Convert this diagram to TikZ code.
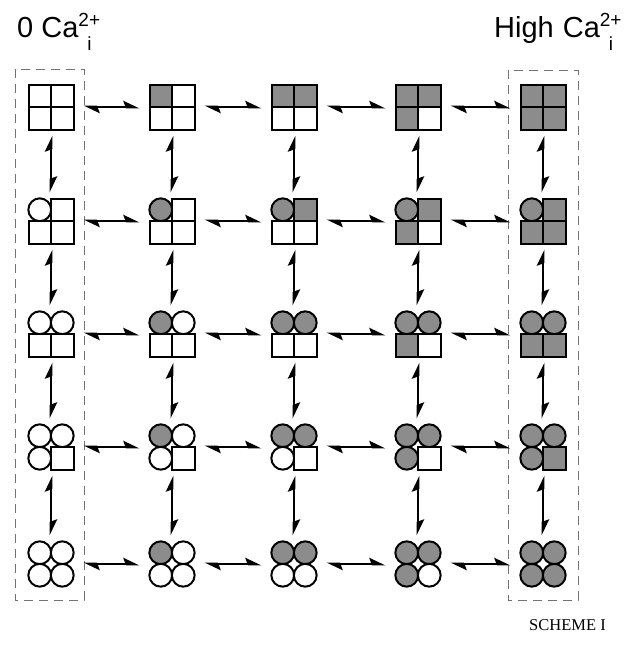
\documentclass[tikz,border=0pt]{standalone}
\usepackage{fontspec}
\setmainfont{Liberation Serif}
\newfontfamily\hv{Liberation Sans}
\usetikzlibrary{arrows.meta}
\definecolor{shade}{gray}{0.55}
\begin{document}
\begin{tikzpicture}[x=1pt,y=-1pt,
  cellline/.style={line width=2pt},
  eqarrow/.style={line width=2.6pt, {Stealth[harpoon,length=13pt,width=12pt,inset=2pt]}-{Stealth[harpoon,length=13pt,width=12pt,inset=2pt]}},
  hshort/.style={shorten <=10pt, shorten >=10pt},
  vshort/.style={shorten <=6pt, shorten >=6pt},
  site/.style={minimum size=45pt, inner sep=0pt, draw=none},
  dashbox/.style={draw=black!55, line width=1pt, dash pattern=on 9pt off 6pt},
  lbl/.style={anchor=base west, inner sep=0pt}]
\useasboundingbox (0,0) rectangle (641,648);
% dashed frames
\draw[dashbox] (15,69) rectangle (84,600);
\draw[dashbox] (508,70) rectangle (578,600);
% sites
\foreach \ry [count=\ri from 0] in {107,221,334,447,564}{
  \foreach \cx [count=\ci from 0] in {51,172,294,418,543}{
    \node[site] (n\ri\ci) at (\cx,\ry) {};
    \foreach \k/\dx/\dy in {1/0/0,2/1/0,3/0/1,4/1/1}{
      \ifnum\k>\ci\relax \def\fc{white}\else\def\fc{shade}\fi
      \ifnum\k>\ri\relax
        \draw[cellline,fill=\fc] (\cx-22.5+\dx*22.5,\ry-22.5+\dy*22.5) rectangle ++(22.5,22.5);
      \else
        \draw[cellline,fill=\fc] (\cx-11.25+\dx*22.5,\ry-11.25+\dy*22.5) circle[radius=11.4];
      \fi
    }
  }
}
% arrows
\foreach \r in {0,...,4}{\foreach \c/\d in {0/1,1/2,2/3,3/4}{\draw[eqarrow,hshort] (n\r\c) -- (n\r\d);}}
\foreach \c in {0,...,4}{\foreach \r/\s in {0/1,1/2,2/3,3/4}{\draw[eqarrow,vshort] (n\r\c) -- (n\s\c);}}
% labels
\node[lbl] (lo) at (17,37) {\hv\fontsize{29}{32}\selectfont 0 Ca\rlap{\raisebox{11pt}{\fontsize{19}{19}\selectfont 2+}}\hspace{9pt}\raisebox{-13pt}{\fontsize{19}{19}\selectfont i}};
\node[lbl] (hi) at (494,37) {\hv\fontsize{29}{32}\selectfont High\hspace{9pt}Ca\rlap{\raisebox{11pt}{\fontsize{19}{19}\selectfont 2+}}\hspace{9pt}\raisebox{-13pt}{\fontsize{19}{19}\selectfont i}};
\node[lbl] (sch) at (529,630) {\fontsize{16.5}{18}\selectfont SCHEME I};
\end{tikzpicture}
\end{document}
